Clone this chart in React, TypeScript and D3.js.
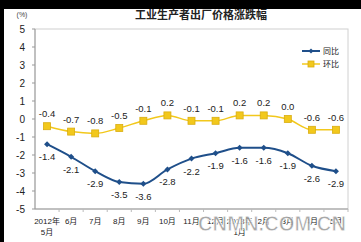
import React from "react";
import * as d3 from "d3";

const categories = ["2012年|5月", "6月", "7月", "8月", "9月", "10月", "11月", "12月", "2013年|1月", "2月", "3月", "4月", "5月"];
const yoy = [-1.4, -2.1, -2.9, -3.5, -3.6, -2.8, -2.2, -1.9, -1.6, -1.6, -1.9, -2.6, -2.9];
const mom = [-0.4, -0.7, -0.8, -0.5, -0.1, 0.2, -0.1, -0.1, 0.2, 0.2, 0.0, -0.6, -0.6];
const yTicks = [5, 4, 3, 2, 1, 0, -1, -2, -3, -4, -5];
const seriesNames = ["同比", "环比"];

const W = 361, H = 242;
const left = 35, right = 348, top = 29, bottom = 209;
const blue = "#1f4f8a";
const yellow = "#f2c81c";
const font = "'Liberation Sans', Arial, 'Noto Sans CJK SC', sans-serif";

export default function App() {
  const x = d3.scaleBand<number>().domain(d3.range(categories.length)).range([left, right]);
  const cx = (i: number) => (x(i) as number) + x.bandwidth() / 2;
  const y = d3.scaleLinear().domain([-5, 5]).range([bottom, top]);
  const line = d3.line<number>().x((_, i) => cx(i)).y((d) => y(d)).curve(d3.curveMonotoneX);

  return (
    <svg width={W} height={H} style={{ position: "absolute", left: 0, top: 0, background: "#fff" }} fontFamily={font}>
      <rect x={0} y={0} width={W} height={H} fill="#fff" />
      <rect x={0} y={0} width={W} height={9} fill="#000" />
      <rect x={0} y={0} width={4} height={H} fill="#000" />
      <text x={201} y={19} textAnchor="middle" fontSize={11} fontWeight="bold" fill="#222">工业生产者出厂价格涨跌幅</text>
      <text x={22} y={17} textAnchor="middle" fontSize={7} fill="#444">(%)</text>
      <rect x={left} y={top} width={right - left} height={bottom - top} fill="none" stroke="#d0d0d0" strokeWidth={1} />
      <line x1={left} x2={left} y1={top} y2={bottom} stroke="#999" />
      <line x1={left} x2={right} y1={bottom} y2={bottom} stroke="#999" />
      {yTicks.map((t) => (
        <g key={t}>
          <line x1={left - 3} x2={left} y1={y(t)} y2={y(t)} stroke="#999" />
          <text x={25} y={y(t) + 3.5} textAnchor="end" fontSize={10} fill="#222">{t}</text>
        </g>
      ))}
      {categories.map((c, i) => (
        <g key={i}>
          <line x1={(x(i) as number) + x.bandwidth()} x2={(x(i) as number) + x.bandwidth()} y1={bottom} y2={bottom + 3} stroke="#bbb" />
          {c.split("|").map((s, k) => (
            <text key={k} x={cx(i)} y={bottom + 15 + k * 11} textAnchor="middle" fontSize={8} fill="#222">{s}</text>
          ))}
        </g>
      ))}
      <path d={line(mom) || ""} fill="none" stroke={yellow} strokeWidth={1.5} />
      <path d={line(yoy) || ""} fill="none" stroke={blue} strokeWidth={2} />
      {mom.map((v, i) => (
        <g key={"m" + i}>
          <rect x={cx(i) - 3.5} y={y(v) - 3.5} width={7} height={7} fill={yellow} stroke="#d9ad10" strokeWidth={0.8} />
          <text x={cx(i)} y={y(v) - 9} textAnchor="middle" fontSize={9.5} fill="#222">{v.toFixed(1)}</text>
        </g>
      ))}
      {yoy.map((v, i) => (
        <g key={"y" + i}>
          <path d={`M${cx(i)},${y(v) - 3}L${cx(i) + 3},${y(v)}L${cx(i)},${y(v) + 3}L${cx(i) - 3},${y(v)}Z`} fill={blue} />
          <text x={cx(i)} y={y(v) + 16} textAnchor="middle" fontSize={9.5} fill="#222">{v.toFixed(1)}</text>
        </g>
      ))}
      <g>
        <line x1={302} x2={320} y1={51} y2={51} stroke={blue} strokeWidth={2} />
        <path d="M311,48.5L313.5,51L311,53.5L308.5,51Z" fill={blue} />
        <text x={323} y={54} fontSize={8} fill="#222">{seriesNames[0]}</text>
        <line x1={302} x2={320} y1={64} y2={64} stroke={yellow} strokeWidth={1.5} />
        <rect x={308} y={61} width={6} height={6} fill={yellow} stroke="#d9ad10" strokeWidth={0.8} />
        <text x={323} y={67} fontSize={8} fill="#222">{seriesNames[1]}</text>
      </g>
      <text x={272} y={231} textAnchor="middle" fontSize={22} fontWeight="bold" fill="#9a9a9a" stroke="#fff" strokeWidth={0.8} fillOpacity={0.85} fontFamily="'Liberation Sans', Arial, sans-serif" textLength={148} lengthAdjust="spacingAndGlyphs">CNMN.COM.CN</text>
    </svg>
  );
}
